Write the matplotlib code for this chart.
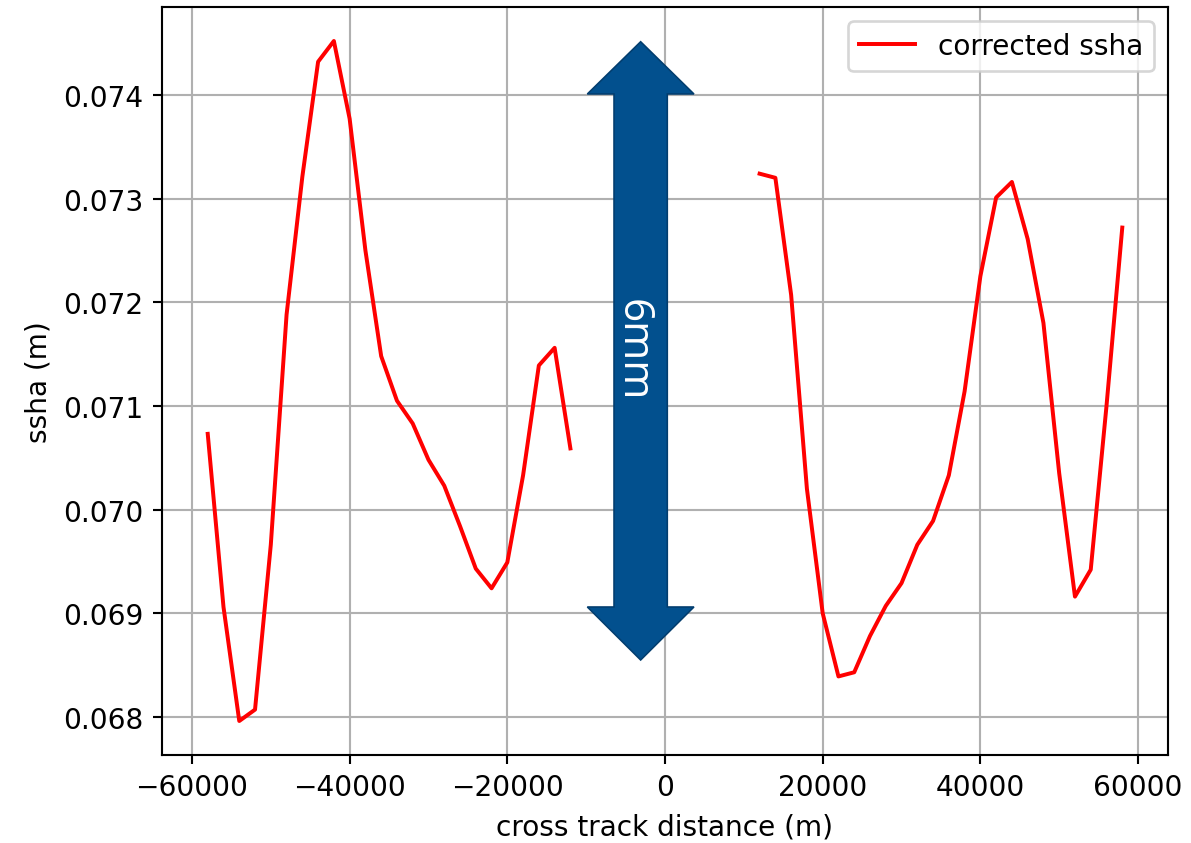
import numpy as np
import matplotlib
matplotlib.use("Agg")
import matplotlib.pyplot as plt
from matplotlib.patches import Polygon

plt.rcParams['font.size'] = 10.6

# cross track distance (m), left and right swath halves
x_left = np.arange(-58000, -10000, 2000)
x_right = np.arange(12000, 60000, 2000)

ssha_left = [0.07073, 0.06906, 0.06796, 0.06807, 0.06966, 0.07188, 0.07321, 0.07432,
             0.07452, 0.07377, 0.07250, 0.07148, 0.07105, 0.07083, 0.07048, 0.07023,
             0.06984, 0.06943, 0.06924, 0.06949, 0.07033, 0.07139, 0.07156, 0.07059]
ssha_right = [0.07324, 0.07320, 0.07207, 0.07020, 0.06900, 0.06839, 0.06843, 0.06878,
              0.06907, 0.06929, 0.06966, 0.06989, 0.07033, 0.07114, 0.07225, 0.07301,
              0.07316, 0.07261, 0.07180, 0.07035, 0.06916, 0.06942, 0.07100, 0.07272]

x = np.concatenate([x_left, [np.nan], x_right])
ssha = np.concatenate([ssha_left, [np.nan], ssha_right])

fig = plt.figure(figsize=(1191/190, 844/190), dpi=190)
ax = fig.add_axes([162/1191, 88/844, 1006/1191, 748/844])

ax.plot(x, ssha, color='r', label='corrected ssha')
ax.grid(True)
ax.set_xlabel('cross track distance (m)')
ax.set_ylabel('ssha (m)')
ax.legend(loc='upper right')

# double headed arrow marking the 6 mm range
cx, hw, sw = 0.4758, 0.0530, 0.0265
y_tip, y_hb, y_lb, y_bot = 0.9536, 0.8837, 0.1979, 0.1270
arrow = Polygon([(cx, y_tip), (cx + hw, y_hb), (cx + sw, y_hb), (cx + sw, y_lb),
                 (cx + hw, y_lb), (cx, y_bot), (cx - hw, y_lb), (cx - sw, y_lb),
                 (cx - sw, y_hb), (cx - hw, y_hb)],
                closed=True, transform=ax.transAxes, facecolor='#02508e',
                edgecolor='#023d6e', linewidth=0.6, zorder=5, clip_on=False)
ax.add_patch(arrow)
ax.text(0.4677, 0.5428, '6mm', transform=ax.transAxes, rotation=-90,
        ha='center', va='center', color='white', fontsize=16,
        family=['Open Sans', 'DejaVu Sans'], zorder=6)

fig.savefig('out.png', dpi=190)
